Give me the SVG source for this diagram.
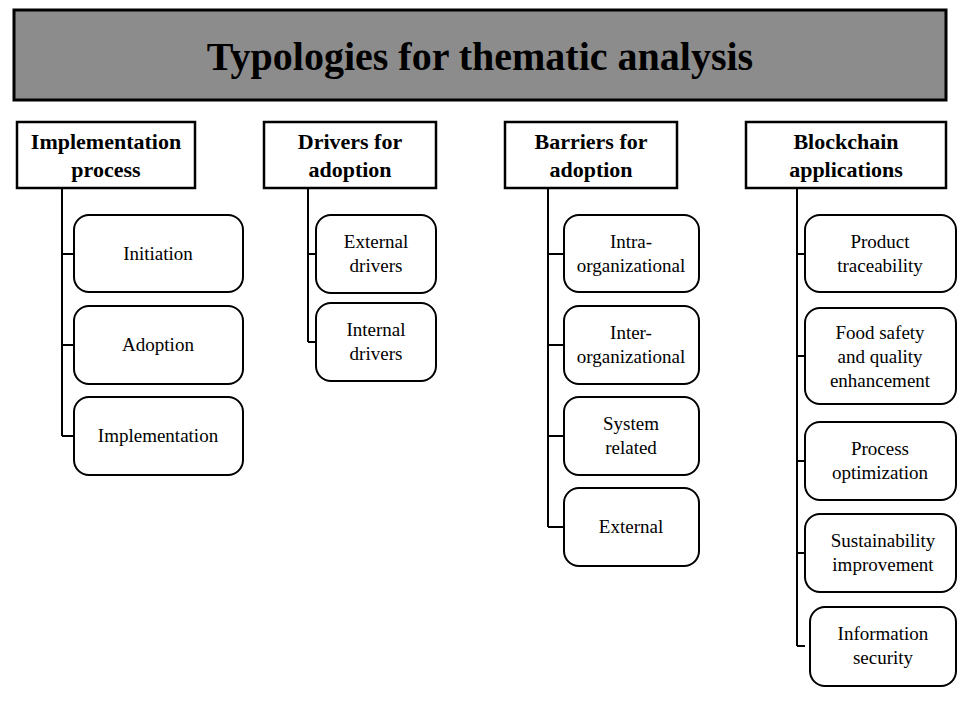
<svg xmlns="http://www.w3.org/2000/svg" width="973" height="704" viewBox="0 0 973 704">
<style>
text{font-family:"Liberation Serif","Times New Roman",serif;text-anchor:middle;fill:#000}
.h{fill:#fff;stroke:#000;stroke-width:2.5}
.ht{font-size:22px;font-weight:bold}
.c{fill:#fff;stroke:#000;stroke-width:2}
.ct{font-size:19px}
.l{stroke:#000;stroke-width:2;fill:none}
</style>
<rect width="973" height="704" fill="#fff"/>
<g id="title"><rect x="14" y="10" width="932" height="90" fill="#8c8c8c" stroke="#000" stroke-width="3"/><text x="480" y="70" style="font-size:40px;font-weight:bold">Typologies for thematic analysis</text></g>
<g id="connectors">
<path class="l" d="M62 188V436M62 254H74M62 345H74M62 436H74"/>
<path class="l" d="M308 188V342M308 254H316M308 342H316"/>
<path class="l" d="M548 188V527M548 254H564M548 345H564M548 436H564M548 527H564"/>
<path class="l" d="M797 188V646M797 254H805M797 356H805M797 461H805M797 553H805M797 646H805"/>
</g>
<g id="h1"><rect class="h" x="17" y="122" width="178" height="66"/><text class="ht" x="106" y="149">Implementation</text><text class="ht" x="106" y="177">process</text></g>
<g id="h2"><rect class="h" x="264" y="122" width="172" height="66"/><text class="ht" x="350" y="149">Drivers for</text><text class="ht" x="350" y="177">adoption</text></g>
<g id="h3"><rect class="h" x="505" y="122" width="172" height="66"/><text class="ht" x="591" y="149">Barriers for</text><text class="ht" x="591" y="177">adoption</text></g>
<g id="h4"><rect class="h" x="746" y="122" width="200" height="66"/><text class="ht" x="846" y="149">Blockchain</text><text class="ht" x="846" y="177">applications</text></g>
<g id="n1"><rect class="c" x="74" y="215" width="169" height="77" rx="15"/><text class="ct" x="158" y="260">Initiation</text></g>
<g id="n2"><rect class="c" x="74" y="306" width="169" height="78" rx="15"/><text class="ct" x="158" y="351">Adoption</text></g>
<g id="n3"><rect class="c" x="74" y="397" width="169" height="78" rx="15"/><text class="ct" x="158" y="442">Implementation</text></g>
<g id="n4"><rect class="c" x="316" y="215" width="120" height="78" rx="15"/><text class="ct" x="376" y="248">External</text><text class="ct" x="376" y="272">drivers</text></g>
<g id="n5"><rect class="c" x="316" y="303" width="120" height="78" rx="15"/><text class="ct" x="376" y="336">Internal</text><text class="ct" x="376" y="360">drivers</text></g>
<g id="n6"><rect class="c" x="564" y="215" width="135" height="77" rx="15"/><text class="ct" x="631" y="248">Intra-</text><text class="ct" x="631" y="272">organizational</text></g>
<g id="n7"><rect class="c" x="564" y="306" width="135" height="78" rx="15"/><text class="ct" x="631" y="339">Inter-</text><text class="ct" x="631" y="363">organizational</text></g>
<g id="n8"><rect class="c" x="564" y="397" width="135" height="78" rx="15"/><text class="ct" x="631" y="430">System</text><text class="ct" x="631" y="454">related</text></g>
<g id="n9"><rect class="c" x="564" y="488" width="135" height="78" rx="15"/><text class="ct" x="631" y="533">External</text></g>
<g id="n10"><rect class="c" x="805" y="215" width="151" height="77" rx="15"/><text class="ct" x="880" y="248">Product</text><text class="ct" x="880" y="272">traceability</text></g>
<g id="n11"><rect class="c" x="805" y="308" width="151" height="96" rx="15"/><text class="ct" x="880" y="339">Food safety</text><text class="ct" x="880" y="363">and quality</text><text class="ct" x="880" y="387">enhancement</text></g>
<g id="n12"><rect class="c" x="805" y="422" width="151" height="78" rx="15"/><text class="ct" x="880" y="455">Process</text><text class="ct" x="880" y="479">optimization</text></g>
<g id="n13"><rect class="c" x="805" y="514" width="151" height="78" rx="15"/><text class="ct" x="883" y="547">Sustainability</text><text class="ct" x="883" y="571">improvement</text></g>
<g id="n14"><rect class="c" x="810" y="607" width="146" height="79" rx="15"/><text class="ct" x="883" y="640">Information</text><text class="ct" x="883" y="664">security</text></g>
</svg>
